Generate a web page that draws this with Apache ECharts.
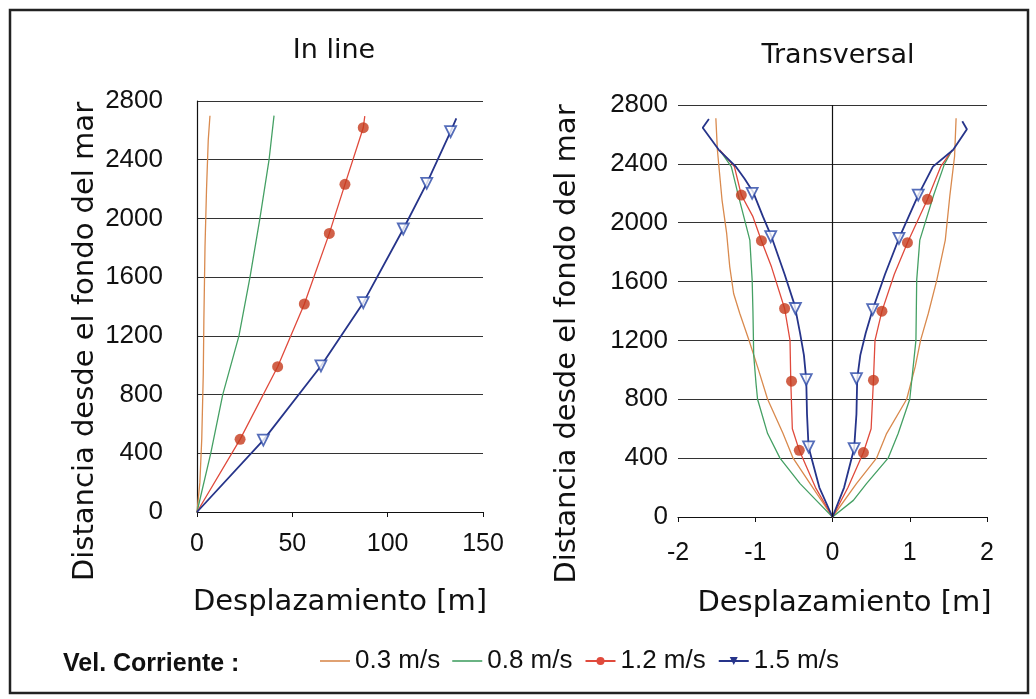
<!DOCTYPE html>
<html>
<head>
<meta charset="utf-8">
<script src="https://cdn.jsdelivr.net/npm/echarts@6/dist/echarts.min.js"></script>
<style>
  html, body { margin: 0; padding: 0; background: #fff; }
  #chart { width: 1036px; height: 699px; }
</style>
</head>
<body>
<div id="chart"></div>
<script>
// names of the four current speeds
const speedNames = ['0.3 m/s', '0.8 m/s', '1.2 m/s', '1.5 m/s'];

// "In line" panel: [displacement m, distance from sea floor m]
const inline03 = [[0, 0], [1.5, 200], [2.5, 500], [3.3, 945], [3.6, 1300], [4.2, 1807], [5, 2200], [5.9, 2534], [6.8, 2700]];
const inline08 = [[0, 0], [7.2, 400], [13.5, 800], [22, 1200], [27.8, 1600], [33, 2000], [37.8, 2400], [40.4, 2700]];
const inline12 = [[0, 0], [22.6, 495], [42.3, 990], [56.3, 1417], [69.4, 1898], [77.6, 2232], [87.2, 2618], [88, 2697]];
const inline15 = [[0, 0], [34.8, 490], [65, 995], [87.2, 1426], [108.2, 1928], [120.5, 2239], [133, 2591], [136, 2682]];
const inline12Marks = [[22.6, 495], [42.3, 990], [56.3, 1417], [69.4, 1898], [77.6, 2232], [87.2, 2618]];
const inline15Marks = [[34.8, 490], [65, 995], [87.2, 1426], [108.2, 1928], [120.5, 2239], [133, 2591]];

// "Transversal" panel, each curve has a negative and a positive branch (depth ascending)
const trans03Left = [[0, 0], [-0.29, 227], [-0.51, 400], [-0.64, 567], [-0.84, 800], [-0.97, 1020], [-1.08, 1200], [-1.20, 1383], [-1.28, 1519], [-1.33, 1700], [-1.37, 1927], [-1.43, 2154], [-1.49, 2494], [-1.51, 2710]];
const trans03Right = [[0, 0], [0.31, 227], [0.57, 400], [0.70, 567], [0.96, 800], [1.07, 1020], [1.14, 1200], [1.24, 1383], [1.35, 1610], [1.46, 1882], [1.52, 2188], [1.58, 2450], [1.60, 2710]];
const trans08Left = [[0, 0], [-0.21, 113], [-0.42, 227], [-0.68, 400], [-0.84, 567], [-0.97, 800], [-0.99, 907], [-1.02, 1100], [-1.03, 1400], [-1.04, 1610], [-1.07, 1882], [-1.22, 2188], [-1.31, 2381], [-1.46, 2494]];
const trans08Right = [[0, 0], [0.27, 113], [0.44, 227], [0.72, 400], [0.85, 567], [1.00, 800], [1.04, 1000], [1.08, 1200], [1.09, 1610], [1.13, 1882], [1.31, 2188], [1.45, 2400], [1.55, 2494]];
const trans12Left = [[0, 0], [-0.22, 200], [-0.43, 453], [-0.52, 600], [-0.54, 923], [-0.55, 1200], [-0.62, 1417], [-0.79, 1700], [-0.92, 1878], [-1.03, 2041], [-1.18, 2188], [-1.27, 2381], [-1.46, 2494]];
const trans12Right = [[0, 0], [0.20, 200], [0.40, 438], [0.50, 600], [0.53, 930], [0.55, 1200], [0.64, 1399], [0.80, 1650], [0.97, 1864], [1.23, 2159], [1.40, 2381], [1.55, 2494]];
const trans15Left = [[0, 0], [-0.17, 200], [-0.31, 476], [-0.33, 700], [-0.34, 934], [-0.37, 1100], [-0.42, 1250], [-0.49, 1440], [-0.62, 1650], [-0.79, 1905], [-0.90, 2041], [-1.03, 2211], [-1.14, 2300], [-1.25, 2381], [-1.47, 2494], [-1.68, 2645], [-1.60, 2705]];
const trans15Right = [[0, 0], [0.15, 200], [0.28, 465], [0.31, 700], [0.32, 941], [0.36, 1100], [0.43, 1250], [0.52, 1410], [0.68, 1650], [0.86, 1893], [1.11, 2188], [1.30, 2381], [1.56, 2494], [1.74, 2635], [1.68, 2690]];
const trans12Marks = [[-1.18, 2188], [-0.92, 1878], [-0.62, 1417], [-0.53, 923], [-0.43, 453], [1.23, 2159], [0.97, 1864], [0.64, 1399], [0.53, 930], [0.40, 438]];
const trans15Marks = [[-1.04, 2200], [-0.80, 1905], [-0.48, 1417], [-0.34, 934], [-0.31, 476], [1.11, 2188], [0.86, 1893], [0.52, 1410], [0.31, 941], [0.28, 465]];

const sans = 'Liberation Sans, Arial, sans-serif';
const wide = 'DejaVu Sans, sans-serif';
const lineColors = ['#d98a4e', '#45a064', '#e04a3c', '#26348a'];
const dotColor = '#c63a1c';
const triColor = '#2a48a8';
const plainNum = v => String(v);

// join the two branches into one polyline: top-left down to 0, then up the right side
function branch(left, right) {
  return left.slice().reverse().concat(right.slice(1));
}

function lineSeries(idx, data, panel, extra) {
  return Object.assign({
    name: speedNames[idx],
    type: 'line',
    xAxisIndex: panel,
    yAxisIndex: panel,
    data: data,
    symbol: 'none',
    showSymbol: false,
    color: lineColors[idx],
    lineStyle: { width: idx === 3 ? 1.8 : 1.3, color: lineColors[idx] },
    z: 3
  }, extra || {});
}

function dotSeries(data, panel) {
  return {
    type: 'scatter', name: 'dots' + panel, xAxisIndex: panel, yAxisIndex: panel,
    data: data, symbol: 'circle', symbolSize: 11,
    itemStyle: { color: dotColor }, z: 5
  };
}

function triSeries(data, panel) {
  return {
    type: 'scatter', name: 'tris' + panel, xAxisIndex: panel, yAxisIndex: panel,
    data: data, symbol: 'triangle', symbolRotate: 180, symbolSize: 11,
    itemStyle: { color: '#fff', borderColor: triColor, borderWidth: 1.8 }, z: 5
  };
}

const gridLine = { show: true, lineStyle: { color: '#333', width: 1 } };
const axisBlack = { show: true, lineStyle: { color: '#111', width: 1.2 } };
const thinLine = 'path://M0,0H30V1.6H0Z';

const option = {
  animation: false,
  backgroundColor: '#fff',
  title: [
    { text: 'In line', left: 329, top: 32, textAlign: 'center',
      textStyle: { fontFamily: wide, fontSize: 27, fontWeight: 'normal', color: '#111' } },
    { text: 'Transversal', left: 833, top: 37, textAlign: 'center',
      textStyle: { fontFamily: wide, fontSize: 27, fontWeight: 'normal', color: '#111' } },
    { text: 'Vel. Corriente :', left: 58, top: 647,
      textStyle: { fontFamily: sans, fontSize: 25, fontWeight: 'bold', color: '#111' } }
  ],
  legend: {
    data: [
      { name: speedNames[0], icon: thinLine },
      { name: speedNames[1], icon: thinLine },
      speedNames[2],
      speedNames[3]
    ],
    left: 315, top: 643,
    itemWidth: 30, itemHeight: 10, itemGap: 12,
    textStyle: { fontFamily: sans, fontSize: 26, color: '#111' }
  },
  graphic: [{
    type: 'rect', silent: true,
    shape: { x: 10, y: 10, width: 1018, height: 683 },
    style: { fill: 'none', stroke: '#222', lineWidth: 2.5 }
  }],
  grid: [
    { left: 197, top: 101, width: 286, height: 411 },
    { left: 678, top: 105, width: 309, height: 412 }
  ],
  xAxis: [
    {
      gridIndex: 0, type: 'value', min: 0, max: 150, interval: 50,
      axisLine: axisBlack, axisTick: { show: true, length: 5, lineStyle: { color: '#111' } },
      splitLine: { show: false },
      axisLabel: { fontFamily: sans, fontSize: 25, color: '#111', margin: 20, formatter: plainNum },
      name: 'Desplazamiento [m]', nameLocation: 'middle', nameGap: 76,
      nameTextStyle: { fontFamily: wide, fontSize: 29, color: '#111' }
    },
    {
      gridIndex: 1, type: 'value', min: -2, max: 2, interval: 1,
      axisLine: Object.assign({ onZero: false }, axisBlack),
      axisTick: { show: true, length: 5, lineStyle: { color: '#111' } },
      splitLine: { show: false },
      axisLabel: { fontFamily: sans, fontSize: 25, color: '#111', margin: 24, formatter: plainNum },
      name: 'Desplazamiento [m]', nameLocation: 'middle', nameGap: 72,
      nameTextStyle: { fontFamily: wide, fontSize: 29, color: '#111', padding: [0, 0, 0, 24] }
    }
  ],
  yAxis: [
    {
      gridIndex: 0, type: 'value', min: 0, max: 2800, interval: 400,
      axisLine: axisBlack, axisTick: { show: false },
      splitLine: gridLine,
      axisLabel: { fontFamily: sans, fontSize: 26, color: '#111', margin: 34, formatter: plainNum },
      name: 'Distancia desde el fondo del mar', nameLocation: 'middle', nameGap: 97,
      nameTextStyle: { fontFamily: wide, fontSize: 29, color: '#111', padding: [0, 70, 0, 0] }
    },
    {
      gridIndex: 1, type: 'value', min: 0, max: 2800, interval: 400,
      axisLine: { show: false }, axisTick: { show: false },
      splitLine: gridLine,
      axisLabel: { fontFamily: sans, fontSize: 26, color: '#111', margin: 10, formatter: plainNum },
      name: 'Distancia desde el fondo del mar', nameLocation: 'middle', nameGap: 96,
      nameTextStyle: { fontFamily: wide, fontSize: 29, color: '#111', padding: [0, 66, 0, 0] }
    }
  ],
  series: [
    lineSeries(0, inline03, 0),
    lineSeries(1, inline08, 0),
    lineSeries(2, inline12, 0, { symbol: 'circle', symbolSize: 8 }),
    lineSeries(3, inline15, 0, { symbol: 'triangle', symbolRotate: 180, symbolSize: 9 }),
    dotSeries(inline12Marks, 0),
    triSeries(inline15Marks, 0),
    lineSeries(0, branch(trans03Left, trans03Right), 1, {
      markLine: {
        silent: true, symbol: 'none', animation: false,
        label: { show: false },
        lineStyle: { color: '#111', width: 1.2, type: 'solid' },
        data: [{ xAxis: 0 }]
      }
    }),
    lineSeries(1, branch(trans08Left, trans08Right), 1),
    lineSeries(2, branch(trans12Left, trans12Right), 1, { symbol: 'circle', symbolSize: 8 }),
    lineSeries(3, branch(trans15Left, trans15Right), 1, { symbol: 'triangle', symbolRotate: 180, symbolSize: 9 }),
    dotSeries(trans12Marks, 1),
    triSeries(trans15Marks, 1)
  ]
};

const chart = echarts.init(document.getElementById('chart'));
chart.setOption(option);
</script>
</body>
</html>
